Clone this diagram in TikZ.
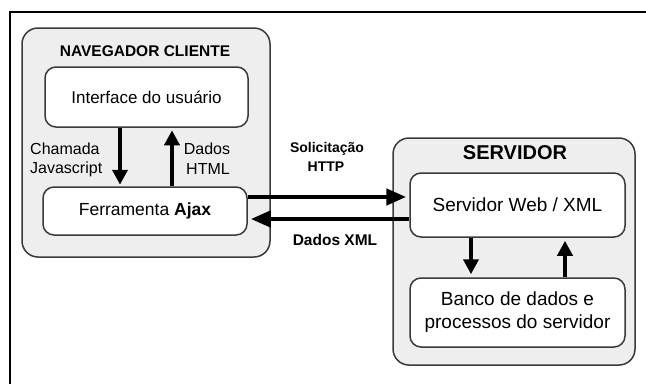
\documentclass[tikz,border=0pt]{standalone}
\usepackage{fontspec}
\setmainfont{Liberation Sans}
\usetikzlibrary{arrows.meta}
\definecolor{grayfill}{HTML}{EEEEEE}
\definecolor{boxline}{HTML}{3A3A3A}
\begin{document}
\begin{tikzpicture}[x=1pt,y=-1pt,
  container/.style={draw=boxline, line width=1.5pt, fill=grayfill, rounded corners=16pt, inner sep=0pt},
  inbox/.style={draw=boxline, line width=1.5pt, fill=white, rounded corners=11pt, inner sep=0pt, align=center},
  flow/.style={line width=4.5pt, -{Triangle[length=15pt,width=15pt]}},
  hflow/.style={line width=4.5pt, -{Triangle[length=20pt,width=16pt]}},
  lbl/.style={inner sep=0pt, font=\fontsize{16}{20}\selectfont},
  blbl/.style={inner sep=0pt, font=\fontsize{14}{18}\selectfont\bfseries, align=center}
]
\useasboundingbox (0,0) rectangle (646,384);
\fill[white] (0,0) rectangle (646,384);
% frame
\coordinate (fr1) at (10,384);
\coordinate (fr2) at (10,12);
\coordinate (fr3) at (646,12);
\draw[line width=2.5pt] (fr1) -- (fr2) -- (fr3);

% client container
\node[container, minimum width=248pt, minimum height=229pt] (nav) at (146,142.5) {};
\node[inner sep=0pt, font=\fontsize{15.5}{18}\selectfont\bfseries] (navt) at (145,51) {NAVEGADOR CLIENTE};
\node[inbox, minimum width=203pt, minimum height=60pt, font=\fontsize{17}{20}\selectfont] (iface) at (146.5,97) {Interface do usuário};
\node[inbox, minimum width=204pt, minimum height=48pt, font=\fontsize{17.5}{20}\selectfont] (ajax) at (145,211) {Ferramenta \textbf{Ajax}};

% server container
\node[container, minimum width=242pt, minimum height=227pt] (srv) at (514,251.5) {};
\node[inner sep=0pt, font=\fontsize{20}{22}\selectfont\bfseries] (srvt) at (515,153) {SERVIDOR};
\node[inbox, minimum width=215pt, minimum height=64pt, font=\fontsize{19}{22}\selectfont] (web) at (517.5,205) {Servidor Web / XML};
\node[inbox, minimum width=215pt, minimum height=69pt, font=\fontsize{19}{23}\selectfont] (db) at (517.5,312.5) {Banco de dados e\\processos do servidor};

% vertical arrows client
\coordinate (v1) at (120,0);
\coordinate (v2) at (172,0);
\draw[flow, shorten >=1.5pt] (iface.south -| v1) -- (ajax.north -| v1);
\draw[flow, shorten >=2.5pt] (ajax.north -| v2) -- (iface.south -| v2);

% vertical arrows server
\coordinate (v3) at (471,0);
\coordinate (v4) at (565,0);
\draw[flow, shorten >=3pt] (web.south -| v3) -- (db.north -| v3);
\draw[flow, shorten >=3pt] (db.north -| v4) -- (web.south -| v4);

% horizontal arrows
\coordinate (h1) at (0,197);
\coordinate (h2) at (0,219);
\draw[hflow, shorten >=3pt] (ajax.east |- h1) -- (web.west |- h1);
\draw[hflow, shorten >=3pt] (web.west |- h2) -- (ajax.east |- h2);

% labels
\node[lbl, anchor=west] (ch) at (30,149) {Chamada};
\node[lbl, anchor=west] (js) at (30,169) {Javascript};
\node[lbl] (dh1) at (207,149) {Dados};
\node[lbl] (dh2) at (208,169) {HTML};
\node[blbl] (sol) at (327,149) {Solicitação};
\node[blbl] (http) at (326,167) {HTTP};
\node[inner sep=0pt, font=\fontsize{15.5}{18}\selectfont\bfseries] (dx) at (335,240) {Dados XML};
\end{tikzpicture}
\end{document}
